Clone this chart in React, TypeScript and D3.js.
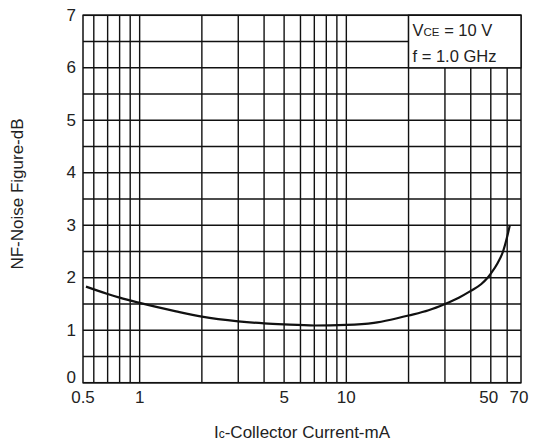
import React from "react";
import * as d3 from "d3";

const currentMA = [0.55, 0.7, 0.8, 1, 1.5, 2, 3, 4, 5, 7, 10, 13.6, 16.4, 20, 25, 30, 35, 40, 45, 48, 50, 54, 57.3, 60, 61.8];
const noiseFigureDB = [1.83, 1.69, 1.62, 1.52, 1.36, 1.26, 1.17, 1.13, 1.11, 1.09, 1.1, 1.14, 1.2, 1.28, 1.38, 1.5, 1.62, 1.75, 1.88, 1.99, 2.08, 2.28, 2.5, 2.78, 3.0];

const xGridValues = [0.6, 0.7, 0.8, 0.9, 1, 2, 3, 4, 5, 6, 7, 8, 9, 10, 20, 30, 40, 50, 60];
const xTickValues = [0.5, 1, 5, 10, 50, 70];
const xTickLabels = ["0.5", "1", "5", "10", "50", "70"];
const yGridValues = d3.range(0, 7.01, 0.5);
const yTickValues = [0, 1, 2, 3, 4, 5, 6, 7];

const W = 536;
const H = 443;
const left = 83;
const right = 521;
const top = 15.3;
const bottom = 382.7;

export default function App() {
  const x = d3.scaleLog().domain([0.532, 70]).range([left, right]).clamp(true);
  const y = d3.scaleLinear().domain([0, 7]).range([bottom, top]);
  const line = d3
    .line<number>()
    .x((_, i) => x(currentMA[i]))
    .y((d) => y(d))
    .curve(d3.curveMonotoneX);
  const font = "'Liberation Sans', Arial, sans-serif";
  const textColor = "#222";
  const legendLeft = x(20);
  const legendBottom = y(6);

  return (
    <svg
      width={W}
      height={H}
      style={{ position: "absolute", left: 0, top: 0, background: "#fff" }}
      fontFamily={font}
    >
      <rect x={0} y={0} width={W} height={H} fill="#fff" />
      {yGridValues.map((v) => (
        <line key={"y" + v} x1={left} x2={right} y1={y(v)} y2={y(v)} stroke="#111" strokeWidth={1.4} />
      ))}
      {xGridValues.map((v) => (
        <line key={"x" + v} x1={x(v)} x2={x(v)} y1={top} y2={bottom} stroke="#111" strokeWidth={1.4} />
      ))}
      <rect x={left} y={top} width={right - left} height={bottom - top} fill="none" stroke="#111" strokeWidth={1.5} />
      <rect
        x={legendLeft}
        y={top}
        width={right - legendLeft}
        height={legendBottom - top}
        fill="#fff"
        stroke="#111"
        strokeWidth={1.4}
      />
      <text x={legendLeft + 4} y={36} fontSize={16.5} fill={textColor}>
        V<tspan fontSize={11.5}>CE</tspan> = 10 V
      </text>
      <text x={legendLeft + 4} y={62} fontSize={16.5} fill={textColor}>
        f = 1.0 GHz
      </text>
      <path d={line(noiseFigureDB) || ""} fill="none" stroke="#111" strokeWidth={2.2} />
      {yTickValues.map((v) => (
        <text
          key={"yl" + v}
          x={76}
          y={y(v) + (v === 0 ? -5 : 0)}
          textAnchor="end"
          dominantBaseline="central"
          fontSize={17}
          fill={textColor}
        >
          {v}
        </text>
      ))}
      {xTickValues.map((v, i) => (
        <text key={"xl" + v} x={x(v) - (v >= 50 ? 2 : 0)} y={403} textAnchor="middle" fontSize={17} fill={textColor}>
          {xTickLabels[i]}
        </text>
      ))}
      <text x={302} y={438} textAnchor="middle" fontSize={17} fill={textColor}>
        I<tspan fontSize={12}>c</tspan>-Collector Current-mA
      </text>
      <text
        transform={`translate(23, 194) rotate(-90)`}
        textAnchor="middle"
        fontSize={17}
        fill={textColor}
      >
        NF-Noise Figure-dB
      </text>
    </svg>
  );
}
